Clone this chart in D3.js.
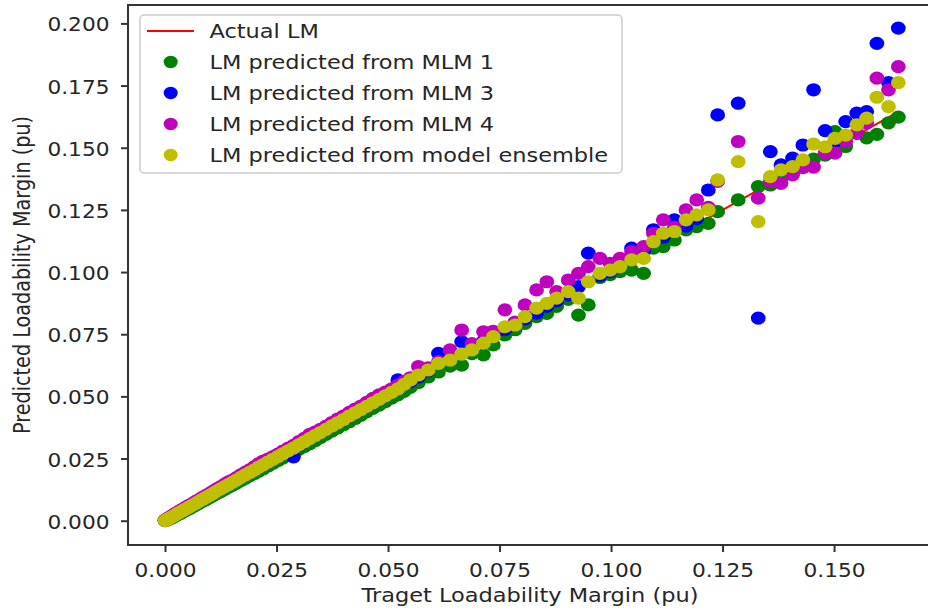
<!DOCTYPE html>
<html>
<head>
<meta charset="utf-8">
<script src="https://cdn.jsdelivr.net/npm/d3@7"></script>
<style>
  html, body { margin: 0; padding: 0; background: #ffffff; }
  svg { display: block; }
  text { font-family: "DejaVu Sans", sans-serif; fill: #262626; }
</style>
</head>
<body>
<svg id="chart" width="928" height="611"></svg>
<script>
// ---------------- data ----------------
const target = [
  0.0000,0.0005,0.0010,0.0016,0.0022,0.0028,0.0034,0.0040,0.0047,0.0054,
  0.0061,0.0068,0.0075,0.0083,0.0091,0.0099,0.0107,0.0115,0.0124,0.0133,
  0.0142,0.0151,0.0160,0.0170,0.0180,0.0190,0.0200,0.0210,0.0220,0.0231,
  0.0242,0.0253,0.0264,0.0276,0.0288,0.0300,0.0312,0.0324,0.0336,0.0348,
  0.0361,0.0374,0.0387,0.0400,0.0413,0.0426,0.0439,0.0452,0.0466,0.0480,
  0.0494,0.0508,0.0522,0.0536,0.0550,
  0.0568,0.0590,0.0613,0.0639,0.0665,0.0688,0.0714,0.0736,0.0762,0.0785,
  0.0807,0.0833,0.0856,0.0878,0.0904,0.0927,0.0949,0.0975,0.0998,0.1020,
  0.1046,0.1073,0.1095,0.1117,0.1142,0.1168,0.1192,0.1218,0.1239,0.1285,
  0.1330,0.1357,0.1381,0.1407,0.1430,0.1454,0.1480,0.1502,0.1526,0.1551,
  0.1573,0.1596,0.1622,0.1644
];
const mlm1 = [
  0.0000,0.0003,0.0007,0.0012,0.0018,0.0024,0.0029,0.0035,0.0042,0.0048,
  0.0055,0.0062,0.0069,0.0077,0.0084,0.0092,0.0100,0.0108,0.0116,0.0125,
  0.0134,0.0142,0.0151,0.0161,0.0170,0.0180,0.0190,0.0199,0.0209,0.0220,
  0.0231,0.0242,0.0252,0.0265,0.0276,0.0287,0.0298,0.0309,0.0321,0.0334,
  0.0347,0.0360,0.0373,0.0386,0.0398,0.0411,0.0424,0.0438,0.0452,0.0465,
  0.0479,0.0493,0.0506,0.0520,0.0536,
  0.0555,0.0578,0.0598,0.0622,0.0626,0.0672,0.0667,0.0707,0.0747,0.0768,
  0.0794,0.0821,0.0834,0.0862,0.0890,0.0827,0.0868,0.0978,0.0990,0.1002,
  0.1008,0.0995,0.1096,0.1102,0.1129,0.1170,0.1183,0.1196,0.1243,0.1290,
  0.1344,0.1350,0.1375,0.1400,0.1424,0.1454,0.1470,0.1565,0.1505,0.1558,
  0.1540,0.1554,0.1600,0.1623
];
const mlm3 = [
  0.0001,0.0006,0.0011,0.0017,0.0023,0.0030,0.0036,0.0042,0.0049,0.0057,
  0.0063,0.0071,0.0078,0.0086,0.0094,0.0103,0.0111,0.0119,0.0128,0.0137,
  0.0146,0.0156,0.0165,0.0175,0.0186,0.0195,0.0205,0.0214,0.0225,0.0236,
  0.0247,0.0258,0.0269,0.0281,0.0257,0.0303,0.0316,0.0330,0.0342,0.0354,
  0.0367,0.0381,0.0394,0.0407,0.0420,0.0433,0.0447,0.0460,0.0474,0.0488,
  0.0502,0.0520,0.0566,0.0548,0.0560,
  0.0578,0.0602,0.0673,0.0652,0.0720,0.0700,0.0722,0.0745,0.0768,0.0798,
  0.0812,0.0835,0.0862,0.0884,0.0908,0.0941,0.1076,0.0985,0.1002,0.1040,
  0.1096,0.1085,0.1170,0.1140,0.1210,0.1185,0.1215,0.1330,0.1632,0.1679,
  0.0815,0.1484,0.1431,0.1458,0.1511,0.1733,0.1569,0.1525,0.1605,0.1639,
  0.1645,0.1920,0.1762,0.1981
];
const mlm4 = [
  0.0002,0.0008,0.0014,0.0021,0.0028,0.0034,0.0041,0.0047,0.0055,0.0062,
  0.0069,0.0077,0.0084,0.0093,0.0101,0.0109,0.0118,0.0127,0.0136,0.0146,
  0.0156,0.0163,0.0173,0.0184,0.0195,0.0205,0.0217,0.0229,0.0240,0.0248,
  0.0258,0.0268,0.0280,0.0292,0.0303,0.0318,0.0331,0.0347,0.0356,0.0367,
  0.0380,0.0395,0.0409,0.0421,0.0436,0.0449,0.0461,0.0476,0.0492,0.0506,
  0.0517,0.0530,0.0545,0.0560,0.0575,
  0.0620,0.0615,0.0640,0.0687,0.0767,0.0712,0.0760,0.0762,0.0848,0.0798,
  0.0868,0.0928,0.0961,0.0921,0.0968,0.0995,0.1022,0.1055,0.1035,0.1055,
  0.1082,0.1102,0.1156,0.1210,0.1180,0.1250,0.1290,0.1260,0.1365,0.1525,
  0.1297,0.1364,0.1357,0.1391,0.1420,0.1422,0.1478,0.1478,0.1525,0.1560,
  0.1600,0.1780,0.1733,0.1826
];
const ensemble = [
  0.0000,0.0005,0.0010,0.0016,0.0022,0.0029,0.0035,0.0041,0.0048,0.0055,
  0.0062,0.0069,0.0077,0.0085,0.0093,0.0101,0.0109,0.0118,0.0127,0.0136,
  0.0145,0.0154,0.0163,0.0174,0.0184,0.0194,0.0204,0.0215,0.0225,0.0236,
  0.0247,0.0258,0.0269,0.0281,0.0292,0.0305,0.0317,0.0330,0.0342,0.0354,
  0.0367,0.0381,0.0394,0.0407,0.0421,0.0434,0.0447,0.0460,0.0474,0.0488,
  0.0502,0.0516,0.0530,0.0548,0.0566,
  0.0586,0.0606,0.0633,0.0646,0.0670,0.0687,0.0714,0.0740,0.0780,0.0787,
  0.0821,0.0855,0.0874,0.0895,0.0921,0.0895,0.0961,0.0995,0.1008,0.1022,
  0.1049,0.1055,0.1122,0.1156,0.1163,0.1210,0.1230,0.1250,0.1371,0.1444,
  0.1203,0.1384,0.1411,0.1424,0.1451,0.1515,0.1504,0.1538,0.1551,0.1592,
  0.1619,0.1703,0.1665,0.1762
];
const xTicks = [0.000, 0.025, 0.050, 0.075, 0.100, 0.125, 0.150];
const yTicks = [0.000, 0.025, 0.050, 0.075, 0.100, 0.125, 0.150, 0.175, 0.200];
const legendLabels = ["Actual LM", "LM predicted from MLM 1", "LM predicted from MLM 3",
                      "LM predicted from MLM 4", "LM predicted from model ensemble"];
const xTitle = "Traget Loadability Margin (pu)";
const yTitle = "Predicted Loadability Margin (pu)";

// ---------------- layout ----------------
const plotL = 128, plotR = 938, plotT = 5, plotB = 545;
const SX = 1.17, SXT = 1.13, FS = 19.2;
const colors = { line: "#ff0000", g: "#008000", b: "#0000ff", m: "#bf00bf", y: "#bfbf00" };
const axisColor = "#333333";

const svg = d3.select("#chart");

const x = d3.scaleLinear().domain([-0.0083, 0.1733]).range([plotL, plotR]);
const y = d3.scaleLinear().domain([-0.00977, 0.2074]).range([plotB, plotT]);

const plot = svg.append("g");

// actual line y = x
const line = d3.line().x(d => x(d)).y(d => y(d));
plot.append("path")
  .datum([d3.min(target), d3.max(target)])
  .attr("d", line)
  .attr("fill", "none")
  .attr("stroke", colors.line)
  .attr("stroke-width", 2);

const series = [
  { vals: mlm1, c: colors.g },
  { vals: mlm3, c: colors.b },
  { vals: mlm4, c: colors.m },
  { vals: ensemble, c: colors.y }
];
const RX = 7.4, RY = 6.6;
series.forEach(s => {
  plot.append("g").selectAll("ellipse")
    .data(target.map((t, i) => [t, s.vals[i]]))
    .join("ellipse")
    .attr("cx", d => x(d[0]))
    .attr("cy", d => y(d[1]))
    .attr("rx", RX)
    .attr("ry", RY)
    .attr("fill", s.c);
});

// axes
const xAxis = d3.axisBottom(x).tickValues(xTicks).tickFormat(d3.format(".3f")).tickSize(7).tickSizeOuter(0);
const yAxis = d3.axisLeft(y).tickValues(yTicks).tickFormat(d3.format(".3f")).tickSize(7).tickSizeOuter(0);

const gx = svg.append("g").attr("transform", `translate(0,${plotB})`).call(xAxis);
const gy = svg.append("g").attr("transform", `translate(${plotL},0)`).call(yAxis);

[gx, gy].forEach(g => {
  g.select(".domain").remove();
  g.selectAll(".tick line").attr("stroke", axisColor).attr("stroke-width", 2);
  g.selectAll(".tick text").attr("fill", "#262626").style("font-size", FS + "px")
    .style("font-family", "DejaVu Sans").attr("x", null).attr("y", null).attr("dy", null);
});
gx.selectAll(".tick text").attr("text-anchor", "middle")
  .attr("transform", `translate(0,32) scale(${SXT},1)`);
gy.selectAll(".tick text").attr("text-anchor", "end")
  .attr("transform", `translate(-18.5,7.5) scale(${SXT},1)`);

// spines
const spines = [
  [plotL, plotT, plotL, plotB],
  [plotL, plotB, plotR, plotB],
  [plotL, plotT, plotR, plotT]
];
svg.append("g").selectAll("line").data(spines).join("line")
  .attr("x1", d => d[0]).attr("y1", d => d[1]).attr("x2", d => d[2]).attr("y2", d => d[3])
  .attr("stroke", axisColor).attr("stroke-width", 2).attr("stroke-linecap", "square");

// axis titles
svg.append("text")
  .attr("text-anchor", "middle")
  .attr("transform", `translate(${(plotL + plotR) / 2 - 3},602) scale(${SX},1)`)
  .style("font-size", FS + "px")
  .text(xTitle);
svg.append("text")
  .attr("text-anchor", "middle")
  .attr("transform", `translate(30,${(plotT + plotB) / 2}) scale(${SX},1) rotate(-90)`)
  .style("font-size", FS + "px")
  .text(yTitle);

// legend
const lg = svg.append("g");
lg.append("rect")
  .attr("x", 140).attr("y", 15).attr("width", 482).attr("height", 158)
  .attr("rx", 4).attr("ry", 4)
  .attr("fill", "#ffffff").attr("fill-opacity", 0.8)
  .attr("stroke", "#cccccc").attr("stroke-width", 1.5);
const rowY = [31, 62, 93, 124, 155];
const legendKinds = [
  { type: "line", c: colors.line },
  { type: "dot", c: colors.g },
  { type: "dot", c: colors.b },
  { type: "dot", c: colors.m },
  { type: "dot", c: colors.y }
];
legendKinds.forEach((k, i) => {
  if (k.type === "line") {
    lg.append("line").attr("x1", 147).attr("x2", 194).attr("y1", rowY[i]).attr("y2", rowY[i])
      .attr("stroke", k.c).attr("stroke-width", 2);
  } else {
    lg.append("ellipse").attr("cx", 170.7).attr("cy", rowY[i]).attr("rx", 7).attr("ry", 6.2)
      .attr("fill", k.c);
  }
  lg.append("text")
    .attr("transform", `translate(209.5,${rowY[i] + 7}) scale(${SX},1)`)
    .style("font-size", FS + "px")
    .text(legendLabels[i]);
});
</script>
</body>
</html>
